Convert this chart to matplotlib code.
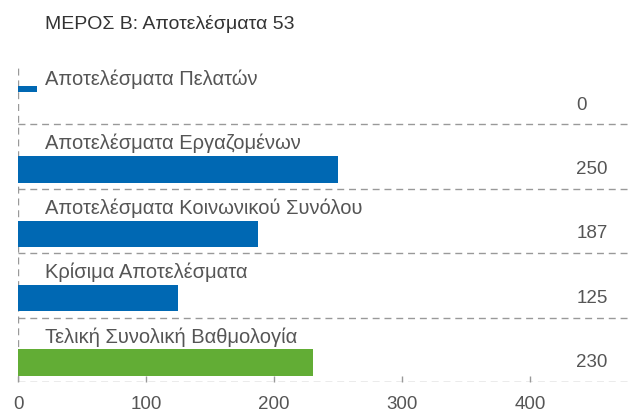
import matplotlib
matplotlib.use("Agg")
import matplotlib.pyplot as plt

title = "ΜΕΡΟΣ Β: Αποτελέσματα 53"
categories = ["Αποτελέσματα Πελατών", "Αποτελέσματα Εργαζομένων",
              "Αποτελέσματα Κοινωνικού Συνόλου", "Κρίσιμα Αποτελέσματα",
              "Τελική Συνολική Βαθμολογία"]
values = [0, 250, 187, 125, 230]
colors = ["#0068b3", "#0068b3", "#0068b3", "#0068b3", "#62ad35"]
xticks = [0, 100, 200, 300, 400]

plt.rcParams['font.family'] = ['Liberation Sans', 'DejaVu Sans']
fig = plt.figure(figsize=(6.29, 4.17), dpi=100)
ax = fig.add_axes([18/629, 1 - 382/417, 1 - 18/629, (382 - 60)/417])
n = len(categories)
xmax = 477
ax.set_xlim(0, xmax)
ax.set_ylim(n - 0.5, -0.5)

text_col = "#555555"
grid_col = "#999999"
dash = (0, (5, 3.5))
for i, (c, v, col) in enumerate(zip(categories, values, colors)):
    if v == 0:
        ax.barh(i - 0.05, 15, height=0.09, left=0, color=col)
    else:
        ax.barh(i + 0.2, v, height=0.41, left=0, color=col)
    ax.text(21, i - 0.2, c, ha='left', va='center', fontsize=14.5, color=text_col)
    ax.text(436, i + 0.2, str(v), ha='left', va='center', fontsize=13.5, color=text_col)

for b in range(n):
    ax.axhline(b + 0.5, color=grid_col, lw=1, ls=dash, zorder=0)
ax.plot([0, 0], [n - 0.5, -0.42], color=grid_col, lw=1, ls=dash, zorder=0)

for s in ax.spines.values():
    s.set_visible(False)
ax.set_yticks([])
ax.set_xticks(xticks)
ax.tick_params(axis='x', direction='in', length=4, width=1, color=grid_col,
               labelcolor=text_col, labelsize=13.5, pad=10)
fig.text(45/629, 1 - 24/417, title, ha='left', va='center', fontsize=14, color="#333333")
fig.savefig("out.png", dpi=100)
